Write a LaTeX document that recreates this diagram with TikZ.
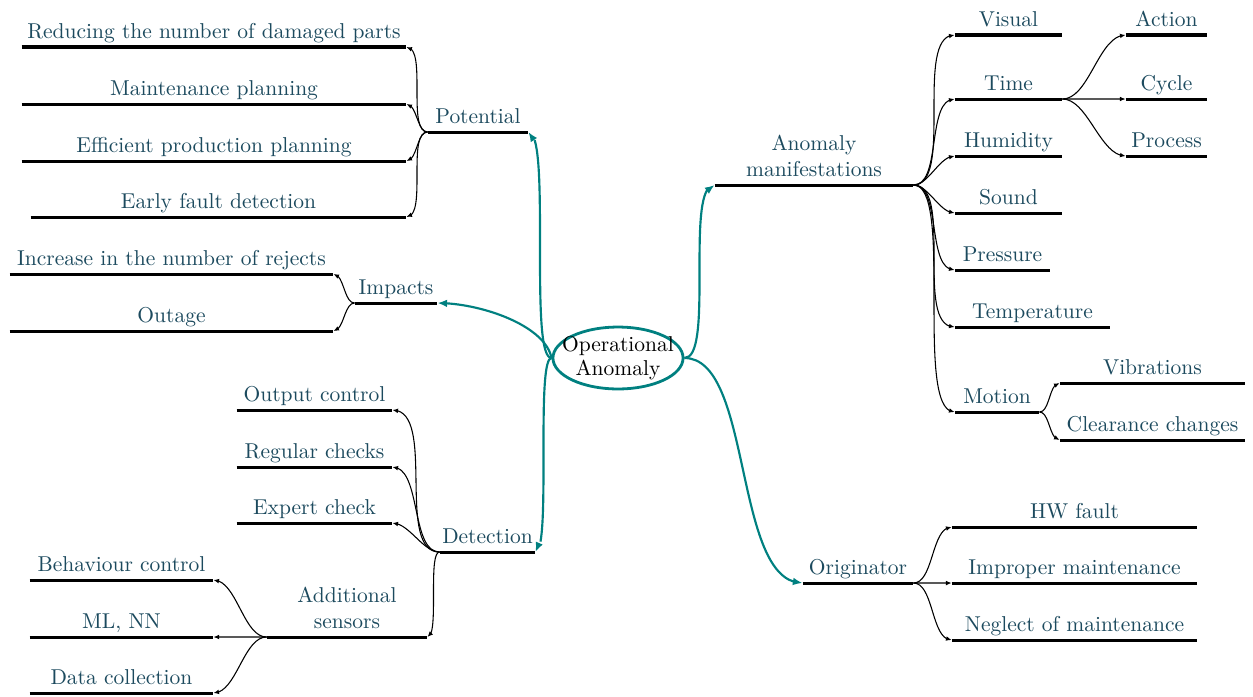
\documentclass[tikz,border=0pt]{standalone}
\usetikzlibrary{arrows.meta,bending,shapes.geometric,calc}
\definecolor{lbl}{RGB}{28,74,94}
\definecolor{tealc}{RGB}{0,128,128}
\tikzset{
  item/.style={text=lbl, anchor=south, inner xsep=0pt, inner ysep=3.7pt, text depth=0pt,
    align=center, font=\fontsize{10}{12}\selectfont},
  uline/.style={line width=1.4pt, black},
  sbend/.style={to path={.. controls (\tikztotarget |- \tikztostart) and (\tikztostart |- \tikztotarget) .. (\tikztotarget) \tikztonodes}},
  conn/.style={line width=0.5pt, black, -{Latex[length=2.6pt,width=2.2pt]}},
  rconn/.style={conn, to path={let \p1=(\tikztostart), \p2=(\tikztotarget),
      \n1={min(0.3*veclen(\x2-\x1,\y2-\y1), abs(\x2-\x1))} in
      .. controls ([xshift=\n1]\tikztostart) and ([xshift=-\n1]\tikztotarget) .. (\tikztotarget) \tikztonodes}},
  lconn/.style={conn, to path={let \p1=(\tikztostart), \p2=(\tikztotarget),
      \n1={min(0.3*veclen(\x2-\x1,\y2-\y1), abs(\x2-\x1))} in
      .. controls ([xshift=-\n1]\tikztostart) and ([xshift=\n1]\tikztotarget) .. (\tikztotarget) \tikztonodes}},
  mainc/.style={tealc, line width=1pt, -{Latex[length=4.5pt,width=3.6pt]}},
  rootnode/.style={draw=tealc, line width=1.3pt, ellipse, minimum width=60.5pt,
    minimum height=28.8pt, inner sep=-6pt, align=center, font=\fontsize{10}{11.2}\selectfont}
}
\newcommand\mmleaf[5]{%
  \node[item, minimum width={(#3-#2)*0.465pt}] (#1) at ({(#2+#3)/2}, #4) {#5};
  \draw[uline] (#1.south west) -- (#1.south east);}
\begin{document}
\begin{tikzpicture}[x=0.465pt, y=-0.465pt]
\useasboundingbox (0,0) rectangle (1253,696);
\node[rootnode] (root) at (618,358) {Operational\\Anomaly};
% left side
\mmleaf{pot}{428}{528}{132}{Potential}
\mmleaf{p1}{22}{406}{47}{Reducing the number of damaged parts}
\mmleaf{p2}{22}{406}{104}{Maintenance planning}
\mmleaf{p3}{22}{406}{161}{Efficient production planning}
\mmleaf{p4}{31}{406}{217}{Early fault detection}
\mmleaf{imp}{355}{437}{303}{Impacts}
\mmleaf{i1}{10}{333}{274}{Increase in the number of rejects}
\mmleaf{i2}{10}{333}{331}{Outage}
\mmleaf{det}{440}{535}{552}{Detection}
\mmleaf{d1}{237}{392}{410}{Output control}
\mmleaf{d2}{237}{392}{467}{Regular checks}
\mmleaf{d3}{237}{392}{523}{Expert check}
\mmleaf{add}{267}{427}{637}{Additional\\sensors}
\mmleaf{a1}{30}{213}{580}{Behaviour control}
\mmleaf{a2}{30}{213}{637}{ML, NN}
\mmleaf{a3}{30}{213}{693}{Data collection}
% right side
\mmleaf{anom}{715}{913}{185}{Anomaly\\manifestations}
\mmleaf{m1}{955}{1062}{35}{Visual}
\mmleaf{m2}{955}{1062}{99}{Time}
\mmleaf{t1}{1126}{1207}{35}{Action}
\mmleaf{t2}{1126}{1207}{99}{Cycle}
\mmleaf{t3}{1126}{1207}{156}{Process}
\mmleaf{m3}{955}{1062}{156}{Humidity}
\mmleaf{m4}{955}{1062}{213}{Sound}
\mmleaf{m5}{955}{1050}{270}{Pressure}
\mmleaf{m6}{955}{1110}{327}{Temperature}
\mmleaf{m7}{955}{1039}{412}{Motion}
\mmleaf{v1}{1060}{1245}{383}{Vibrations}
\mmleaf{v2}{1060}{1245}{440}{Clearance changes}
\mmleaf{orig}{803}{913}{583}{Originator}
\mmleaf{o1}{952}{1197}{527}{HW fault}
\mmleaf{o2}{952}{1197}{583}{Improper maintenance}
\mmleaf{o3}{952}{1197}{640}{Neglect of maintenance}
% main teal connectors
\draw[mainc, sbend] (root.west) to (pot.south east);
\draw[mainc] (root.west) .. controls (545,325) and (480,303) .. (imp.south east);
\draw[mainc, sbend] (root.west) to (det.south east);
\draw[mainc, sbend] (root.east) to (anom.south west);
\draw[mainc] (root.east) .. controls (753,358) and (733,583) .. (orig.south west);
% black connectors, left
\foreach \c in {p1,p2,p3,p4} \draw[lconn] (pot.south west) to (\c.south east);
\foreach \c in {i1,i2} \draw[lconn] (imp.south west) to (\c.south east);
\foreach \c in {d1,d2,d3,add} \draw[lconn] (det.south west) to (\c.south east);
\foreach \c in {a1,a2,a3} \draw[lconn] (add.south west) to (\c.south east);
% black connectors, right
\foreach \c in {m1,m2,m3,m4,m5,m6,m7} \draw[rconn] (anom.south east) to (\c.south west);
\foreach \c in {t1,t2,t3} \draw[rconn] (m2.south east) to (\c.south west);
\foreach \c in {v1,v2} \draw[rconn] (m7.south east) to (\c.south west);
\foreach \c in {o1,o2,o3} \draw[rconn] (orig.south east) to (\c.south west);
\end{tikzpicture}
\end{document}
